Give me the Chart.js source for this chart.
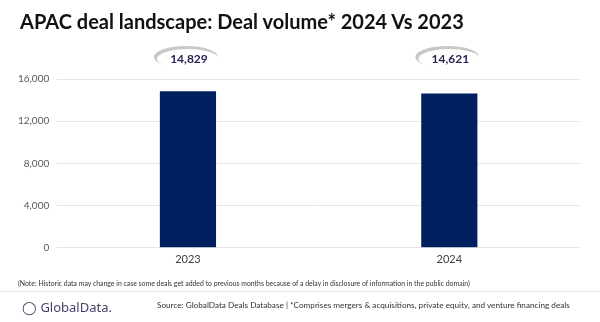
<!DOCTYPE html>
<html>
<head>
<meta charset="utf-8">
<script src="https://cdn.jsdelivr.net/npm/chart.js@4"></script>
<style>
  body { margin: 0; background: #fff; font-family: Lato, "Open Sans", sans-serif; }
  #wrap { position: relative; width: 600px; height: 322px; overflow: hidden; }
  #title { position: absolute; left: 20px; top: 9px; font-size: 20px; font-weight: bold; color: #111; }
  #note { position: absolute; left: 18px; top: 279px; font-size: 6.9px; color: #333; white-space: nowrap; }
  #sep { position: absolute; left: 0; top: 291px; width: 600px; height: 1px; background: #e4e4e4; }
  #logo { position: absolute; left: 22px; top: 298px; font-size: 13px; color: #4a3f6b; font-family: "Noto Sans", sans-serif; white-space: nowrap; }
  #source { position: absolute; left: 157px; top: 300px; font-size: 8.2px; color: #333; white-space: nowrap; }
  canvas { position: absolute; left: 0; top: 0; }
</style>
</head>
<body>
<div id="wrap">
  <canvas id="dealChart" width="600" height="322"></canvas>
  <div id="title">APAC deal landscape: Deal volume* 2024 Vs 2023</div>
  <div id="note">(Note: Historic data may change in case some deals get added to previous months because of a delay in disclosure of information in the public domain)</div>
  <div id="sep"></div>
  <div id="logo">&#9711; GlobalData.</div>
  <div id="source">Source: GlobalData Deals Database | *Comprises mergers &amp; acquisitions, private equity, and venture financing deals</div>
</div>
<script>
let years = ['2023', '2024']; // categories
let dealVolume = [14829, 14621]; // deal volume
let yTicks = [0, 4000, 8000, 12000, 16000];

// ellipse bubbles above each bar
let bubbleLabels = {
  id: 'bubbleLabels',
  afterDatasetsDraw(chart) {
    let ctx = chart.ctx;
    let meta = chart.getDatasetMeta(0);
    meta.data.forEach((bar, i) => {
      let x = bar.x;
      let y = chart.chartArea.top - 20;
      ctx.save();
      // shadow rim
      ctx.beginPath();
      ctx.ellipse(x - 2, y - 2, 32, 11, 0, 0, Math.PI * 2);
      ctx.fillStyle = '#c8c8c8';
      ctx.fill();
      ctx.beginPath();
      ctx.ellipse(x, y, 31, 10, 0, 0, Math.PI * 2);
      ctx.fillStyle = '#ffffff';
      ctx.fill();
      ctx.fillStyle = '#2b2357';
      ctx.font = 'bold 12px Lato';
      ctx.textAlign = 'center';
      ctx.textBaseline = 'middle';
      ctx.fillText(dealVolume[i].toLocaleString('en-US'), x + 1, y);
      ctx.restore();
    });
  }
};

let ctx = document.getElementById('dealChart').getContext('2d');

let dealChart = new Chart(ctx, {
  type: 'bar',
  data: {
    labels: years,
    datasets: [
      {
        label: 'Deal volume',
        data: dealVolume,
        backgroundColor: '#002060',
        categoryPercentage: 1,
        barPercentage: 0.215
      }
    ]
  },
  options: {
    responsive: false,
    animation: false,
    layout: {
      padding: { top: 79, bottom: 59, left: 10, right: 20 }
    },
    plugins: {
      legend: { display: false },
      tooltip: { enabled: false }
    },
    scales: {
      x: {
        grid: { display: false },
        border: { display: false },
        ticks: { color: '#404040', font: { family: 'Lato', size: 11 }, padding: -3 }
      },
      y: {
        min: 0,
        max: 16000,
        afterBuildTicks: axis => { axis.ticks = yTicks.map(v => ({ value: v })); },
        grid: { color: '#e6e6e6', drawTicks: false },
        border: { display: false },
        ticks: {
          color: '#595959',
          font: { family: 'Lato', size: 10 },
          padding: 8,
          callback: v => v.toLocaleString('en-US')
        }
      }
    }
  },
  plugins: [bubbleLabels]
});
</script>
</body>
</html>
